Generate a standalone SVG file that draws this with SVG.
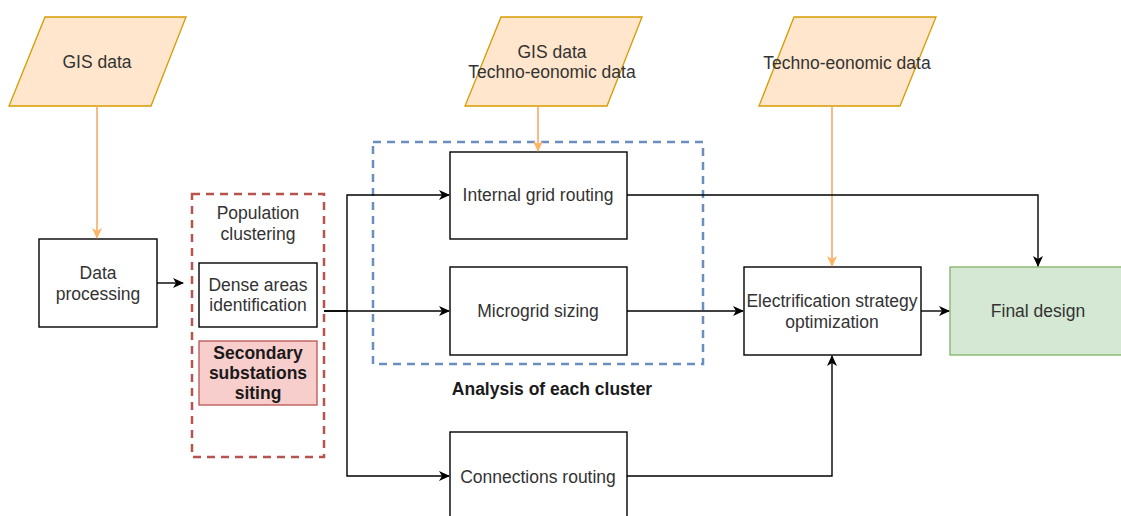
<svg xmlns="http://www.w3.org/2000/svg" width="1121" height="516" viewBox="0 0 1121 516">
<defs>
<style>
text{font-family:"Liberation Sans",Arial,Helvetica,sans-serif;font-size:17.5px;fill:#333;text-anchor:middle;dominant-baseline:central}
.b{font-weight:bold;fill:#1a1a1a}
.box{fill:#fff;stroke:#000;stroke-width:1.4}
.para{fill:#ffe6cc;stroke:#d79b00;stroke-width:1.3}
.e{fill:none;stroke:#000;stroke-width:1.4}
.o{fill:none;stroke:#f5ab6a;stroke-width:1.6}
</style>
<marker id="ak" markerWidth="12" markerHeight="10" refX="10" refY="5" orient="auto" markerUnits="userSpaceOnUse">
<path d="M0,0 L11,5 L0,10 L3,5 z" fill="#000"/>
</marker>
<marker id="ao" markerWidth="12" markerHeight="10" refX="10" refY="5" orient="auto" markerUnits="userSpaceOnUse">
<path d="M0,0 L11,5 L0,10 L3,5 z" fill="#ffb366"/>
</marker>
</defs>
<rect width="1121" height="516" fill="#fff"/>
<g id="gis1"><polygon class="para" points="45,17 186,17 151,106 9,106"/><text x="97" y="62">GIS data</text></g>
<g id="gis2"><polygon class="para" points="501,17 642,17 607,106 465,106"/><text x="552" y="52">GIS data</text><text x="552" y="72">Techno-eonomic data</text></g>
<g id="techno"><polygon class="para" points="794,17 936,17 900,106 759,106"/><text x="847" y="63">Techno-eonomic data</text></g>
<g id="cluster-group"><rect x="192" y="194" width="132" height="263" fill="none" stroke="#b85450" stroke-width="2.5" stroke-dasharray="8,6"/><text x="258" y="213">Population</text><text x="258" y="234">clustering</text></g>
<g id="analysis-group"><rect x="373" y="142" width="330" height="222" fill="none" stroke="#6c8ebf" stroke-width="2.5" stroke-dasharray="8,6"/><text class="b" x="552" y="389">Analysis of each cluster</text></g>
<g id="data-processing"><rect class="box" x="39" y="239" width="118" height="88"/><text x="98" y="273">Data</text><text x="98" y="294">processing</text></g>
<g id="dense"><rect class="box" x="199" y="263" width="118" height="64"/><text x="258" y="285">Dense areas</text><text x="258" y="305">identification</text></g>
<g id="secondary"><rect x="199" y="341" width="118" height="64" fill="#f8cecc" stroke="#b85450" stroke-width="1.3"/><text class="b" x="258" y="353">Secondary</text><text class="b" x="258" y="373">substations</text><text class="b" x="258" y="393">siting</text></g>
<g id="internal"><rect class="box" x="450" y="152" width="177" height="87"/><text x="538" y="195">Internal grid routing</text></g>
<g id="microgrid"><rect class="box" x="450" y="267" width="177" height="88"/><text x="538" y="311">Microgrid sizing</text></g>
<g id="connections"><rect class="box" x="450" y="432" width="177" height="88"/><text x="538" y="477">Connections routing</text></g>
<g id="electrification"><rect class="box" x="744" y="267" width="177" height="88"/><text x="832" y="301">Electrification strategy</text><text x="832" y="322">optimization</text></g>
<g id="final"><rect x="950" y="267" width="177" height="88" fill="#d5e8d4" stroke="#82b366" stroke-width="1.3"/><text x="1038" y="311">Final design</text></g>
<g id="connectors">
<path class="o" d="M97,106 V238" marker-end="url(#ao)"/>
<path class="o" d="M538,106 V151" marker-end="url(#ao)"/>
<path class="o" d="M832,106 V266" marker-end="url(#ao)"/>
<path class="e" d="M157,283 H183" marker-end="url(#ak)"/>
<path class="e" d="M324,311 H347 V195 H449" marker-end="url(#ak)"/>
<path class="e" d="M324,311 H449" marker-end="url(#ak)"/>
<path class="e" d="M347,311 V476 H449" marker-end="url(#ak)"/>
<path class="e" d="M627,195 H1038 V266" marker-end="url(#ak)"/>
<path class="e" d="M627,311 H743" marker-end="url(#ak)"/>
<path class="e" d="M627,476 H832 V356" marker-end="url(#ak)"/>
<path class="e" d="M921,311 H949" marker-end="url(#ak)"/>
</g>
</svg>
